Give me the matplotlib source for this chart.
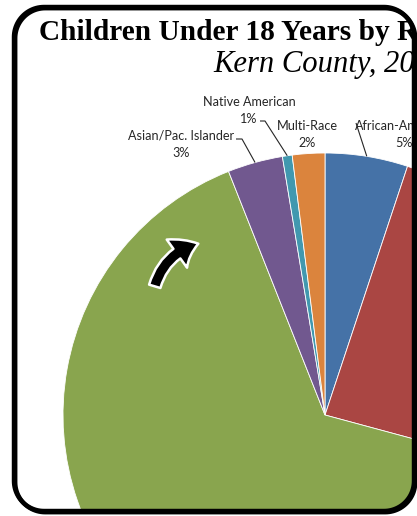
import numpy as np
import matplotlib
matplotlib.use('Agg')
import matplotlib.pyplot as plt
from matplotlib.patches import FancyArrowPatch, ArrowStyle, PathPatch, Polygon
from matplotlib.path import Path

W, H = 417, 516

# data (share of children, %)
groups = ['African-American', 'White', 'Hispanic', 'Asian/Pac. Islander', 'Native American', 'Multi-Race']
shares = [5.1, 24.1, 64.8, 3.4, 0.6, 2.0]
colors = ['#4572A7', '#AA4643', '#89A54E', '#71588F', '#4198AF', '#DB843D']

title = 'Children Under 18 Years by Race/Ethnicity'
subtitle = 'Kern County, 2010'

# label placement in pixels: (center x, y of first line, y of second line)
label_pos = {
    'African-American': (404, 126, 143),
    'Multi-Race': (307, 126, 143),
    'Native American': (249, 102, 119),
    'Asian/Pac. Islander': (181, 136, 153),
}
# leader line start points (pixels), None = no leader
leader_start = {
    'African-American': [(356, 123)],
    'Multi-Race': None,
    'Native American': [(260, 121), (265, 121)],
    'Asian/Pac. Islander': [(236, 139), (242, 139)],
}

def py(y):
    return H - y

def rounded_rect(x0, y0, x1, y1, rad, n=24):
    # counter-clockwise outline of a rounded rectangle
    pts = []
    for (ccx, ccy), a0 in [((x1 - rad, y0 + rad), -90), ((x1 - rad, y1 - rad), 0),
                           ((x0 + rad, y1 - rad), 90), ((x0 + rad, y0 + rad), 180)]:
        t = np.deg2rad(np.linspace(a0, a0 + 90, n))
        pts += list(zip(ccx + rad * np.cos(t), ccy + rad * np.sin(t)))
    return np.array(pts)

fig = plt.figure(figsize=(W / 100, H / 100), dpi=100)
ax = fig.add_axes([0, 0, 1, 1])

cx, cy, r = 325, py(415), 262

wedges, _ = ax.pie(shares, colors=colors, startangle=90, counterclock=False,
                   center=(cx, cy), radius=r,
                   wedgeprops=dict(edgecolor='white', linewidth=0.6))

ax.set_xlim(0, W)
ax.set_ylim(0, H)
ax.set_aspect('auto')
ax.axis('off')

ax.text(39, py(40), title, fontsize=21.2, fontweight='bold',
        family='Liberation Serif', ha='left', va='baseline')
ax.text(213, py(72), subtitle, fontsize=22.1, style='italic',
        family='Liberation Serif', ha='left', va='baseline')

lab_font = dict(fontsize=9.1, family='Lato', color='#262626')
for w, g, s in zip(wedges, groups, shares):
    if g not in label_pos:
        continue
    x0, y1, y2 = label_pos[g]
    ax.text(x0, py(y1), g, ha='center', va='center', **lab_font)
    ax.text(x0, py(y2), f'{round(s):d}%', ha='center', va='center', **lab_font)
    if leader_start[g]:
        mid = np.deg2rad((w.theta1 + w.theta2) / 2)
        pts = [(x, py(y)) for x, y in leader_start[g]]
        pts.append((cx + r * np.cos(mid), cy + r * np.sin(mid)))
        xs, ys = zip(*pts)
        ax.plot(xs, ys, color='#262626', lw=0.8, solid_capstyle='butt')

arrow = FancyArrowPatch((154, py(289)), (201, py(243)),
                        connectionstyle='arc3,rad=-0.3',
                        arrowstyle=ArrowStyle.Simple(head_length=17, head_width=25, tail_width=8.5),
                        mutation_scale=1, fc='black', ec='white', lw=1.8, zorder=5)
ax.add_patch(arrow)

# white mask outside the rounded frame, then the frame itself
frame = rounded_rect(14, py(511), 414, py(7), 30)
outer = np.array([(-20, -20), (-20, H + 20), (W + 20, H + 20), (W + 20, -20), (-20, -20)])
verts = np.vstack([outer, frame, frame[:1]])
codes = ([Path.MOVETO] + [Path.LINETO] * 3 + [Path.CLOSEPOLY]
         + [Path.MOVETO] + [Path.LINETO] * (len(frame) - 1) + [Path.CLOSEPOLY])
ax.add_patch(PathPatch(Path(verts, codes), fc='white', ec='none', zorder=8))
ax.add_patch(Polygon(frame + [1.2, -1.2], closed=True, fc='none', ec='black', lw=3.2, zorder=9))
ax.add_patch(Polygon(frame, closed=True, fc='none', ec='black', lw=3.2, zorder=10))

fig.savefig('out.png', dpi=100)
